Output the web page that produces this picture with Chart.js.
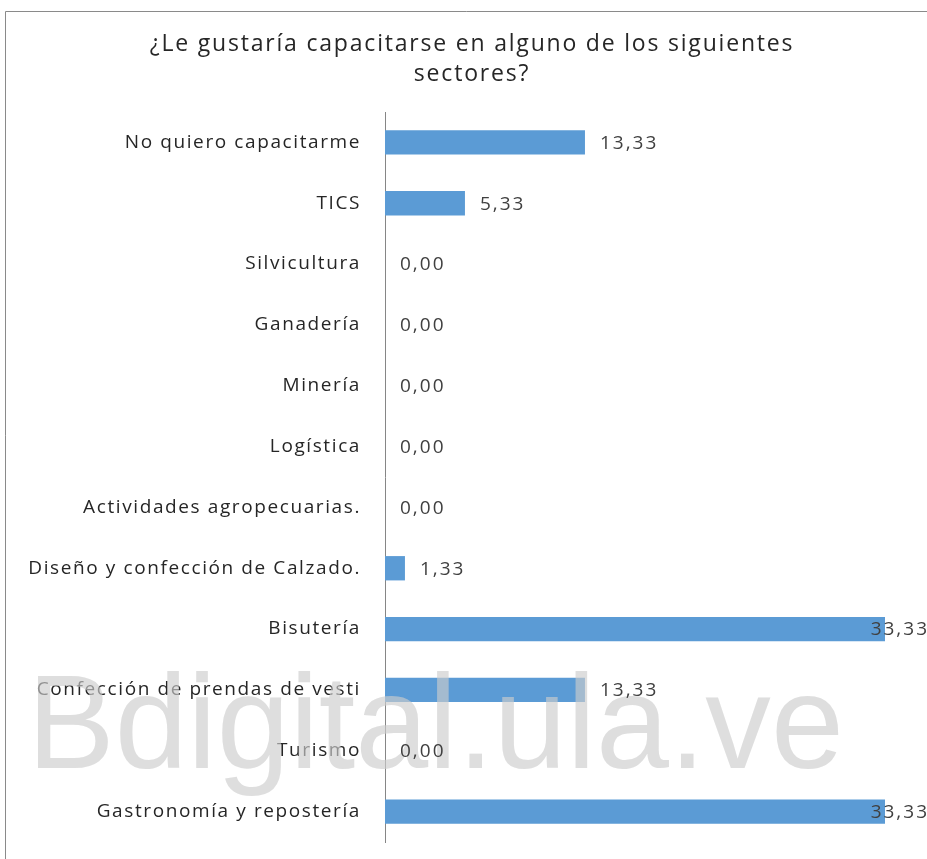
<!DOCTYPE html>
<html>
<head>
<meta charset="utf-8">
<script src="https://cdn.jsdelivr.net/npm/chart.js@4/dist/chart.umd.min.js"></script>
<style>
  html, body { margin: 0; padding: 0; background: #fff; overflow: hidden; }
  #wrap { width: 927px; height: 859px; position: relative; }
</style>
</head>
<body>
<div id="wrap"><canvas id="c" width="927" height="859"></canvas></div>
<script>
const titleLines = ['¿Le gustaría capacitarse en alguno de los siguientes', 'sectores?'];
const categories = [
  'No quiero capacitarme',
  'TICS',
  'Silvicultura',
  'Ganadería',
  'Minería',
  'Logística',
  'Actividades agropecuarias.',
  'Diseño y confección de Calzado.',
  'Bisutería',
  'Confección de prendas de vesti',
  'Turismo',
  'Gastronomía y repostería'
];
const values = [13.33, 5.33, 0.00, 0.00, 0.00, 0.00, 0.00, 1.33, 33.33, 13.33, 0.00, 33.33];
const watermarkText = 'Bdigital.ula.ve';

const spacingPlugin = {
  id: 'spacing',
  beforeLayout(chart) { chart.ctx.letterSpacing = '1.6px'; },
  beforeDraw(chart) { chart.ctx.letterSpacing = '1.6px'; }
};

const framePlugin = {
  id: 'frame',
  beforeDraw(chart) {
    const ctx = chart.ctx;
    ctx.save();
    ctx.strokeStyle = '#8a8a8a';
    ctx.lineWidth = 1;
    ctx.beginPath();
    ctx.moveTo(5.5, 859);
    ctx.lineTo(5.5, 11.5);
    ctx.lineTo(927, 11.5);
    ctx.stroke();
    ctx.restore();
  }
};

const titlePlugin = {
  id: 'customTitle',
  afterDraw(chart) {
    const ctx = chart.ctx;
    ctx.save();
    ctx.letterSpacing = '1.8px';
    ctx.font = '23px "Open Sans", sans-serif';
    ctx.fillStyle = '#262626';
    ctx.textAlign = 'center';
    ctx.textBaseline = 'middle';
    titleLines.forEach((line, i) => ctx.fillText(line, 472, 44 + i * 30));
    ctx.restore();
  }
};

const watermarkPlugin = {
  id: 'watermark',
  afterDatasetsDraw(chart) {
    const ctx = chart.ctx;
    ctx.save();
    ctx.letterSpacing = '0px';
    ctx.font = '133px "Liberation Sans", Arial, sans-serif';
    const m = ctx.measureText(watermarkText);
    const w = m.actualBoundingBoxLeft + m.actualBoundingBoxRight;
    const sx = 802 / w;
    ctx.translate(37, 768);
    ctx.scale(sx, 1);
    ctx.fillStyle = 'rgba(204,204,204,0.65)';
    ctx.textBaseline = 'alphabetic';
    ctx.textAlign = 'left';
    ctx.fillText(watermarkText, m.actualBoundingBoxLeft, 0);
    ctx.restore();
  }
};

const valueLabelPlugin = {
  id: 'valueLabels',
  afterDraw(chart) {
    const ctx = chart.ctx;
    const meta = chart.getDatasetMeta(0);
    ctx.save();
    ctx.letterSpacing = '2px';
    ctx.font = '19px "Open Sans", sans-serif';
    ctx.fillStyle = '#404040';
    ctx.textBaseline = 'middle';
    ctx.textAlign = 'left';
    meta.data.forEach((bar, i) => {
      const txt = values[i].toFixed(2).replace('.', ',');
      const w = ctx.measureText(txt).width;
      let x = bar.x + 15;
      if (x + w > chart.width) x = chart.width - w + 2;
      ctx.fillText(txt, x, bar.y + 1);
    });
    ctx.restore();
  }
};

new Chart(document.getElementById('c'), {
  type: 'bar',
  data: {
    labels: categories,
    datasets: [{
      data: values,
      backgroundColor: '#5B9BD5',
      borderWidth: 0,
      barPercentage: 0.8,
      categoryPercentage: 0.5
    }]
  },
  plugins: [spacingPlugin, framePlugin, watermarkPlugin, valueLabelPlugin, titlePlugin],
  options: {
    indexAxis: 'y',
    responsive: false,
    maintainAspectRatio: false,
    animation: false,
    devicePixelRatio: 1,
    layout: { padding: { left: 0, right: 42, top: 112, bottom: 17 } },
    plugins: {
      legend: { display: false },
      tooltip: { enabled: false },
      title: { display: false }
    },
    scales: {
      x: {
        display: false,
        min: 0,
        max: Math.max(...values)
      },
      y: {
        z: 1,
        afterFit(scale) {
          scale.width = 385;
          scale.paddingTop = 0;
          scale.paddingBottom = 0;
        },
        grid: { display: false, drawTicks: false },
        border: { display: true, color: '#868686', width: 1 },
        ticks: {
          color: '#262626',
          padding: 24,
          font: { family: '"Open Sans", sans-serif', size: 19 }
        }
      }
    }
  }
});
</script>
</body>
</html>
